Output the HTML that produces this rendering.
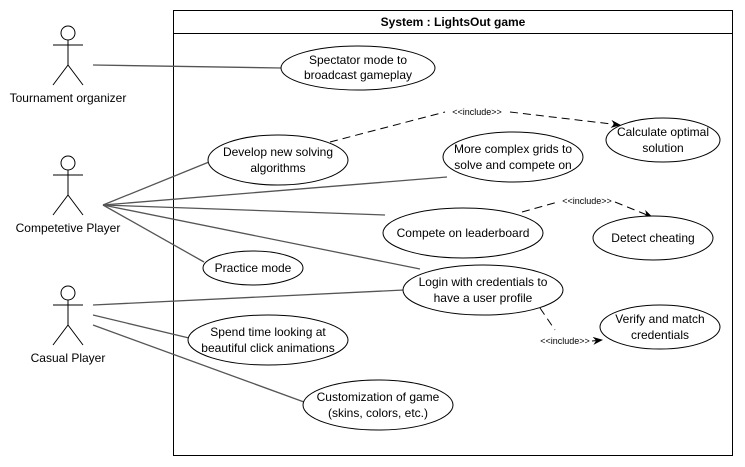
<!DOCTYPE html>
<html><head><style>body{margin:0;background:#fff}svg{display:block}</style></head>
<body>
<svg width="745" height="467" viewBox="0 0 745 467" xmlns="http://www.w3.org/2000/svg" font-family="Liberation Sans, Arial, sans-serif" font-size="12">
<defs><marker id="a" markerWidth="10" markerHeight="8" refX="9" refY="4" orient="auto" markerUnits="userSpaceOnUse"><path d="M0,0 L10,4 L0,8 L3,4 z" fill="#000"/></marker></defs>
<rect x="173.5" y="10.5" width="559" height="445" fill="#fff" stroke="#000"/>
<line x1="173" y1="33.5" x2="733" y2="33.5" stroke="#000"/>
<text x="453" y="26" text-anchor="middle" font-weight="bold">System : LightsOut game</text>
<g stroke="#555" stroke-width="1.3" fill="none">
<line x1="93" y1="65" x2="281" y2="68"/>
<line x1="103" y1="205" x2="209" y2="162"/>
<line x1="103" y1="205" x2="447" y2="177"/>
<line x1="103" y1="205" x2="385" y2="215"/>
<line x1="103" y1="205" x2="204" y2="262"/>
<line x1="103" y1="205" x2="420" y2="269"/>
<line x1="93" y1="305" x2="404" y2="290"/>
<line x1="93" y1="315" x2="189" y2="338"/>
<line x1="93" y1="325" x2="304" y2="402"/>
</g>
<g stroke="#000" stroke-width="1" fill="none" stroke-dasharray="8,5">
<path d="M330,142 L445,112 M510,112 L620,125" marker-end="url(#a)"/>
<path d="M522,212 L558,202 M615,202 L652,217" marker-end="url(#a)"/>
<path d="M540,308 L555,330 M592,341 L602,340" marker-end="url(#a)"/>
</g>
<g font-size="9">
<text x="477" y="115" text-anchor="middle">&lt;&lt;include&gt;&gt;</text>
<text x="587" y="204" text-anchor="middle">&lt;&lt;include&gt;&gt;</text>
<text x="565" y="344" text-anchor="middle">&lt;&lt;include&gt;&gt;</text>
</g>
<g fill="#fff" stroke="#000">
<ellipse cx="358" cy="68" rx="77" ry="22"/>
<ellipse cx="278" cy="160" rx="70" ry="25"/>
<ellipse cx="663" cy="140" rx="57" ry="22"/>
<ellipse cx="513" cy="157" rx="70" ry="25"/>
<ellipse cx="463" cy="233" rx="80" ry="25"/>
<ellipse cx="653" cy="238" rx="60" ry="22"/>
<ellipse cx="253" cy="268" rx="50" ry="17"/>
<ellipse cx="483" cy="290" rx="80" ry="25"/>
<ellipse cx="660" cy="327" rx="60" ry="22"/>
<ellipse cx="268" cy="340" rx="80" ry="25"/>
<ellipse cx="378" cy="405" rx="75" ry="25"/>
</g>
<g text-anchor="middle">
<text x="358" y="64">Spectator mode to</text><text x="358" y="79">broadcast gameplay</text>
<text x="278" y="156">Develop new solving</text><text x="278" y="172">algorithms</text>
<text x="663" y="136">Calculate optimal</text><text x="663" y="152">solution</text>
<text x="513" y="153">More complex grids to</text><text x="513" y="169">solve and compete on</text>
<text x="463" y="237">Compete on leaderboard</text>
<text x="653" y="242">Detect cheating</text>
<text x="253" y="272">Practice mode</text>
<text x="483" y="286">Login with credentials to</text><text x="483" y="302">have a user profile</text>
<text x="660" y="323">Verify and match</text><text x="660" y="339">credentials</text>
<text x="268" y="336">Spend time looking at</text><text x="268" y="352">beautiful click animations</text>
<text x="378" y="401">Customization of game</text><text x="378" y="417">(skins, colors, etc.)</text>
</g>
<g stroke="#000" fill="#fff">
<g transform="translate(68,0)"><circle cx="0" cy="33" r="7"/><path d="M0,40 V65 M-15,45 H15 M0,65 L-15,85 M0,65 L15,85" fill="none"/></g>
<g transform="translate(68,130)"><circle cx="0" cy="33" r="7"/><path d="M0,40 V65 M-15,45 H15 M0,65 L-15,85 M0,65 L15,85" fill="none"/></g>
<g transform="translate(68,260)"><circle cx="0" cy="33" r="7"/><path d="M0,40 V65 M-15,45 H15 M0,65 L-15,85 M0,65 L15,85" fill="none"/></g>
</g>
<g text-anchor="middle">
<text x="68" y="102">Tournament organizer</text>
<text x="68" y="232">Competetive Player</text>
<text x="68" y="362">Casual Player</text>
</g>
</svg>
</body></html>
